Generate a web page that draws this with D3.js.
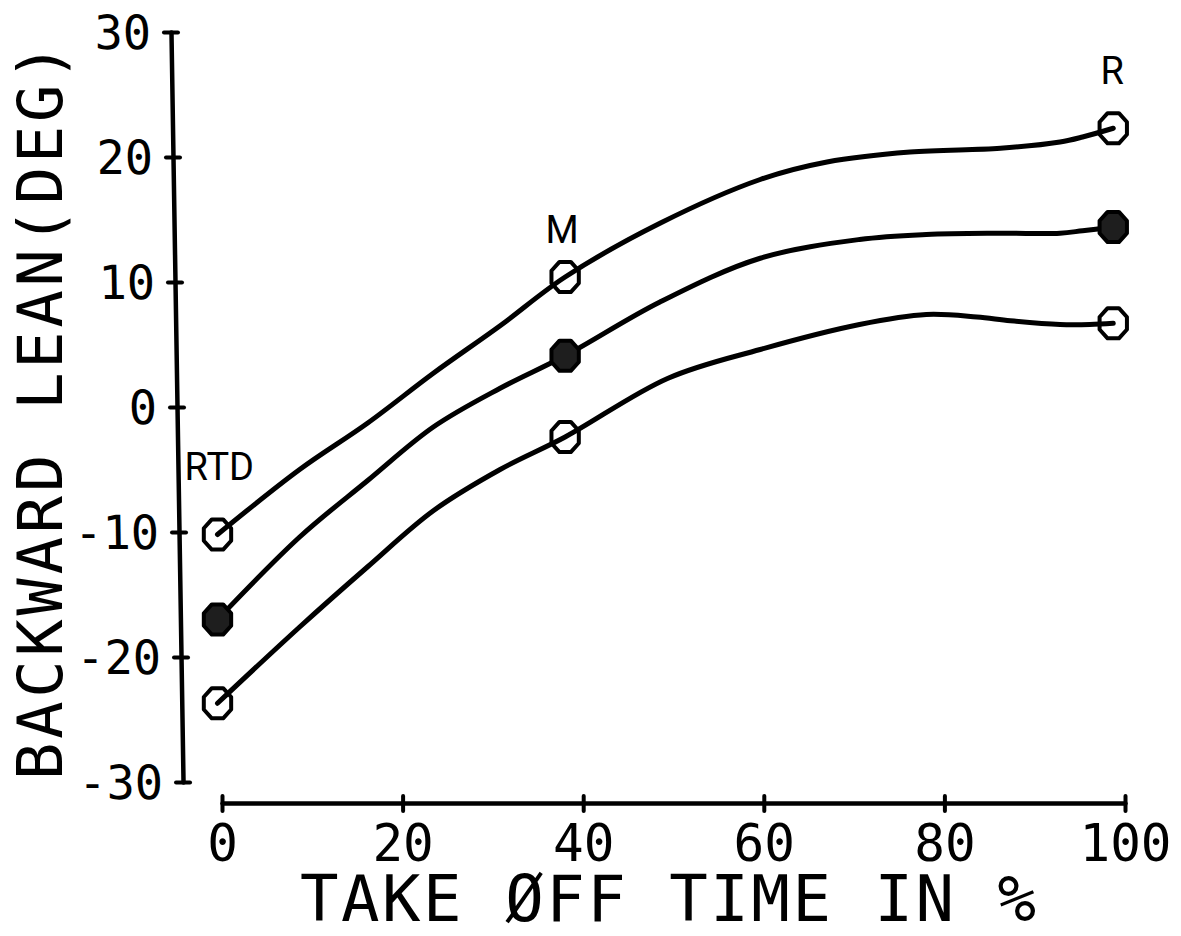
<!DOCTYPE html>
<html>
<head>
<meta charset="utf-8">
<script src="https://cdn.jsdelivr.net/npm/d3@7"></script>
<style>
  html, body { margin: 0; padding: 0; background: #fff; }
  svg { display: block; }
</style>
</head>
<body>
<svg id="chart" width="1181" height="936"></svg>
<script>
// Take-off phases: touchdown (RTD), mid-stance (M), release (R)
const phaseX = [-0.5, 38.0, 98.7];
const phaseNames = ["RTD", "M", "R"];

// Backward lean at each phase (deg): upper band, mean, lower band
const upperAtPhase = [-10.2, 10.4, 22.3];
const meanAtPhase = [-17.0, 4.1, 14.4];
const lowerAtPhase = [-23.7, -2.4, 6.7];

// Smoothed curves traced through the take-off (time in %, lean in deg)
const upperTraceX = [-0.5, 8.6, 16.1, 23.4, 30.8, 38.0, 48.5, 59.6, 67.0, 76.2, 86.2, 92.8, 95.3, 98.7];
const upperTraceY = [-10.2, -5.0, -1.3, 2.7, 6.5, 10.4, 14.7, 18.2, 19.6, 20.4, 20.7, 21.2, 21.6, 22.3];

const meanTraceX = [-0.5, 8.6, 16.1, 23.4, 30.8, 38.0, 48.5, 59.6, 70.6, 78.0, 86.2, 92.8, 95.3, 98.7];
const meanTraceY = [-17.0, -10.4, -5.9, -1.6, 1.5, 4.1, 8.4, 11.9, 13.4, 13.8, 13.9, 13.9, 14.1, 14.4];

const lowerTraceX = [-0.5, 8.6, 16.1, 23.4, 30.8, 38.0, 49.4, 59.6, 70.6, 78.0, 83.6, 87.3, 92.8, 96.1, 98.7];
const lowerTraceY = [-23.7, -17.6, -12.8, -8.3, -5.0, -2.4, 2.3, 4.6, 6.6, 7.4, 7.2, 6.9, 6.6, 6.6, 6.7];

// Axis ticks
const xTicks = [0, 20, 40, 60, 80, 100];
const yTicks = [-30, -20, -10, 0, 10, 20, 30];

const svg = d3.select("#chart");
const ink = "#000";

const x = d3.scaleLinear().domain([0, 100]).range([222, 1125]);
const y = d3.scaleLinear().domain([-30, 30]).range([782, 32]);

const monoFont = "'DejaVu Sans Mono', 'Liberation Mono', monospace";
const labelFont = "Roboto, 'Liberation Sans', Arial, sans-serif";

// ---- Y axis (the plotter drew it with a slight lean) ----
const yAxisG = svg.append("g")
  .attr("transform", `translate(177,${y(0)}) skewX(0.92) translate(0,${-y(0)})`)
  .call(d3.axisLeft(y).tickValues(yTicks).tickSizeOuter(0).tickSizeInner(0)
        .tickFormat(d => String(d)));
yAxisG.select(".domain").attr("stroke", ink).attr("stroke-width", 4.5).attr("stroke-linecap", "round");
yAxisG.selectAll(".tick line")
  .attr("x1", -7).attr("x2", 7)
  .attr("stroke", ink).attr("stroke-width", 4).attr("stroke-linecap", "round");
yAxisG.selectAll(".tick text")
  .attr("x", -20).attr("dy", "0.36em")
  .attr("text-anchor", "end")
  .attr("font-family", monoFont).attr("font-size", 47)
  .attr("fill", ink);

// ---- X axis ----
const xAxisG = svg.append("g")
  .attr("transform", "translate(0,803)")
  .call(d3.axisBottom(x).tickValues(xTicks).tickSizeOuter(0).tickSizeInner(0)
        .tickFormat(d => String(d)));
xAxisG.select(".domain").attr("stroke", ink).attr("stroke-width", 4.5).attr("stroke-linecap", "round");
xAxisG.selectAll(".tick line")
  .attr("y1", -7).attr("y2", 8)
  .attr("stroke", ink).attr("stroke-width", 4).attr("stroke-linecap", "round");
xAxisG.selectAll(".tick text")
  .attr("y", 58).attr("dy", 0)
  .attr("text-anchor", "middle")
  .attr("font-family", monoFont).attr("font-size", 51)
  .attr("fill", ink);

// ---- Axis titles ----
svg.append("text")
  .attr("x", 300).attr("y", 921)
  .attr("font-family", monoFont).attr("font-size", 64)
  .attr("letter-spacing", 2.5)
  .attr("fill", ink)
  .text("TAKE ØFF TIME IN %");

svg.append("text")
  .attr("transform", "translate(62,780) rotate(-90)")
  .attr("font-family", monoFont).attr("font-size", 62)
  .attr("letter-spacing", 3.8)
  .attr("fill", ink)
  .text("BACKWARD LEAN(DEG)");

// ---- Curves ----
const line = d3.line()
  .x(d => x(d[0]))
  .y(d => y(d[1]))
  .curve(d3.curveCatmullRom.alpha(0.5));

const traces = [
  d3.zip(upperTraceX, upperTraceY),
  d3.zip(meanTraceX, meanTraceY),
  d3.zip(lowerTraceX, lowerTraceY)
];
svg.append("g").selectAll("path")
  .data(traces)
  .join("path")
  .attr("d", line)
  .attr("fill", "none")
  .attr("stroke", ink)
  .attr("stroke-width", 5)
  .attr("stroke-linejoin", "round")
  .attr("stroke-linecap", "round");

// ---- Octagon markers ----
const octagon = (rx, ry) => {
  const pts = d3.range(8).map(k => {
    const a = (22.5 + 45 * k) * Math.PI / 180;
    return [rx * Math.cos(a), ry * Math.sin(a)];
  });
  return d3.line().curve(d3.curveLinearClosed)(pts);
};
const octPath = octagon(14.8, 16.3);

const markerSets = [
  { values: upperAtPhase, filled: false },
  { values: meanAtPhase, filled: true },
  { values: lowerAtPhase, filled: false }
];
markerSets.forEach(set => {
  svg.append("g").selectAll("path")
    .data(d3.zip(phaseX, set.values))
    .join("path")
    .attr("d", octPath)
    .attr("transform", d => `translate(${x(d[0])},${y(d[1])})`)
    .attr("fill", set.filled ? "#1e1e1e" : "none")
    .attr("stroke", ink)
    .attr("stroke-width", 4)
    .attr("stroke-linejoin", "round");
});

// ---- Phase labels ----
const phaseLabelPos = [
  { anchor: "start", dx: -33, y: y(upperAtPhase[0]) - 55 },
  { anchor: "middle", dx: -3, y: y(upperAtPhase[1]) - 34 },
  { anchor: "middle", dx: -1, y: y(upperAtPhase[2]) - 44 }
];
svg.append("g").selectAll("text")
  .data(phaseNames)
  .join("text")
  .attr("x", (d, i) => x(phaseX[i]) + phaseLabelPos[i].dx)
  .attr("y", (d, i) => phaseLabelPos[i].y)
  .attr("text-anchor", (d, i) => phaseLabelPos[i].anchor)
  .attr("font-family", labelFont).attr("font-size", 38)
  .attr("fill", ink)
  .text(d => d);
</script>
</body>
</html>
